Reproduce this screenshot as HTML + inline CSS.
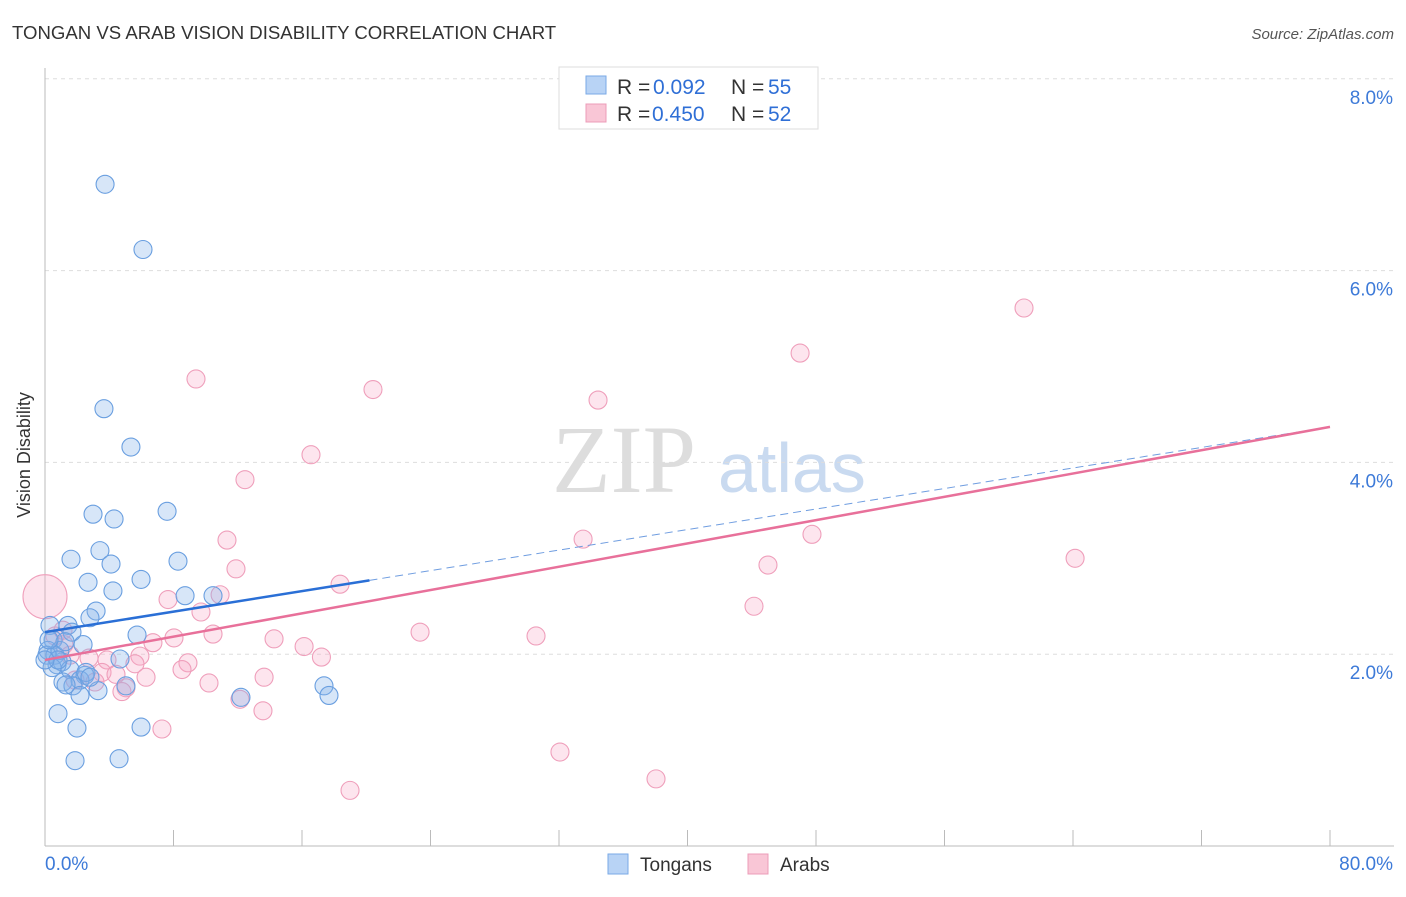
<!DOCTYPE html>
<html><head><meta charset="utf-8"><style>
body{margin:0;background:#fff;font-family:"Liberation Sans",sans-serif;}
</style></head><body>
<svg width="1406" height="892" xmlns="http://www.w3.org/2000/svg" style="font-family:'Liberation Sans',sans-serif">
<text x="12" y="39" font-size="18.6" fill="#333">TONGAN VS ARAB VISION DISABILITY CORRELATION CHART</text>
<text x="1394" y="39" font-size="15" fill="#555" text-anchor="end" font-style="italic">Source: ZipAtlas.com</text>
<text x="30" y="455" font-size="18" fill="#333" text-anchor="middle" transform="rotate(-90 30 455)">Vision Disability</text>
<text x="552" y="492" font-size="96" fill="#ddd" font-family="Liberation Serif">ZIP</text>
<text x="718" y="492" font-size="70" fill="#c9daf0">atlas</text>
<g id="grid"></g><g id="axes"></g><g id="pts"></g><g id="lines"></g>
<g>
<rect x="559" y="67" width="259" height="62" fill="#fff" stroke="#ddd"/>
<rect x="586" y="76" width="20" height="18" fill="#b8d3f5" stroke="#7aa9e6"/>
<rect x="586" y="104" width="20" height="18" fill="#f9c6d6" stroke="#ec9cb8"/>
<text y="94" font-size="21" fill="#333"><tspan x="617">R =</tspan><tspan x="653" fill="#2f6fd6">0.092</tspan><tspan x="731">N =</tspan><tspan x="768" fill="#2f6fd6">55</tspan></text>
<text y="121" font-size="21" fill="#333"><tspan x="617">R =</tspan><tspan x="652" fill="#2f6fd6">0.450</tspan><tspan x="731">N =</tspan><tspan x="768" fill="#2f6fd6">52</tspan></text>
</g>
<g>
<rect x="608" y="854" width="20" height="20" fill="#b8d3f5" stroke="#7aa9e6"/>
<text x="640" y="871" font-size="19" fill="#333">Tongans</text>
<rect x="748" y="854" width="20" height="20" fill="#f9c6d6" stroke="#ec9cb8"/>
<text x="780" y="871" font-size="19" fill="#333">Arabs</text>
</g>
</svg>
<script>
const yTicks=[2,4,6,8];
const xTickLabels=["0.0%","80.0%"];
const tonganX=[3.74,6.10,3.67,5.35,2.99,4.30,7.60,1.62,3.42,4.11,8.28,2.68,5.98,4.23,8.72,10.46,3.18,2.80,1.43,1.68,0.31,5.73,2.37,0.50,0.19,0.62,1.06,0.75,4.67,1.56,2.49,2.18,1.12,1.74,3.30,5.04,2.18,12.20,17.37,17.68,0.81,1.99,5.98,1.87,4.61,0.12,0.93,1.25,2.55,0.44,0.81,1.31,0.25,2.80,0];
const tonganY=[6.90,6.22,4.56,4.16,3.46,3.41,3.49,2.99,3.08,2.94,2.97,2.75,2.78,2.66,2.61,2.61,2.45,2.38,2.30,2.23,2.30,2.20,2.10,2.15,2.04,1.99,1.92,1.89,1.95,1.84,1.78,1.73,1.71,1.67,1.62,1.67,1.57,1.55,1.67,1.57,1.38,1.23,1.24,0.89,0.91,1.99,2.04,2.13,1.81,1.86,1.94,1.68,2.15,1.76,1.94];
const arabX=[60.95,47.01,9.40,20.42,34.43,16.56,12.45,47.75,33.50,11.33,64.13,45.01,11.89,18.37,44.14,7.66,10.90,9.71,23.35,30.57,10.46,14.26,8.03,6.72,16.13,17.21,8.90,5.91,5.60,3.86,2.74,1.18,1.56,0.62,1.12,8.53,3.55,4.42,6.29,13.64,10.21,3.11,5.04,4.79,12.14,13.57,7.28,32.06,38.04,18.99,1.87,0];
const arabY=[5.61,5.14,4.87,4.76,4.65,4.08,3.82,3.25,3.20,3.19,3.00,2.93,2.89,2.73,2.50,2.57,2.62,2.44,2.23,2.19,2.21,2.16,2.17,2.12,2.08,1.97,1.91,1.98,1.90,1.94,1.96,2.10,1.99,2.19,2.25,1.84,1.81,1.79,1.76,1.76,1.70,1.71,1.65,1.61,1.53,1.41,1.22,0.98,0.70,0.58,1.73,2.60];
const tonganTrend=[2.23,2.77,4.37];
const arabTrend=[1.94,4.37];
const NS="http://www.w3.org/2000/svg";
const X=v=>45+v/80*1285, Y=v=>846-v*95.9;
function mk(t,a,p){const e=document.createElementNS(NS,t);for(const k in a)e.setAttribute(k,a[k]);document.getElementById(p).appendChild(e);return e;}
yTicks.forEach(t=>{
 const l=mk('line',{x1:45,x2:1394,y1:Y(t),y2:Y(t),stroke:'#ddd','stroke-dasharray':'4,4'},'grid');
 
 
 const tx=mk('text',{x:1393,y:Y(t)+25,'font-size':19,fill:'#3d7ad8','text-anchor':'end'},'grid');
 tx.textContent=t.toFixed(1)+'%';
 
 
});
mk('line',{x1:45,x2:45,y1:68,y2:846,stroke:'#bbb'},'axes');
mk('line',{x1:45,x2:1394,y1:846,y2:846,stroke:'#bbb'},'axes');
for(let i=0;i<=10;i++){mk('line',{x1:X(i*8),x2:X(i*8),y1:830,y2:846,stroke:'#bbb'},'axes');}
const xl0=mk('text',{x:45,y:870,'font-size':19,fill:'#3d7ad8'},'axes');xl0.textContent=xTickLabels[0];


const xl1=mk('text',{x:1393,y:870,'font-size':19,fill:'#3d7ad8','text-anchor':'end'},'axes');xl1.textContent=xTickLabels[1];


arabX.forEach((v,i)=>{const big=i==arabX.length-1;
 const c=mk('circle',{cx:X(v),cy:Y(arabY[i]),r:big?22:9,fill:'rgba(247,170,198,0.3)',stroke:'#ef9fbb','stroke-width':1.1},'pts');
 
 });
tonganX.forEach((v,i)=>{
 const c=mk('circle',{cx:X(v),cy:Y(tonganY[i]),r:9,fill:'rgba(130,178,234,0.32)',stroke:'#6a9fe0','stroke-width':1.1},'pts');
 
 });
const t1=mk('line',{x1:X(0),y1:Y(tonganTrend[0]),x2:X(20.2),y2:Y(tonganTrend[1]),stroke:'#2a6fd6','stroke-width':2.5},'lines');


const t2=mk('line',{x1:X(20.2),y1:Y(tonganTrend[1]),x2:X(80),y2:Y(tonganTrend[2]),stroke:'#6f9de0','stroke-width':1,'stroke-dasharray':'8,5'},'lines');


const a1=mk('line',{x1:X(0),y1:Y(arabTrend[0]),x2:X(80),y2:Y(arabTrend[1]),stroke:'#e8709a','stroke-width':2.5},'lines');


</script>
</body></html>
